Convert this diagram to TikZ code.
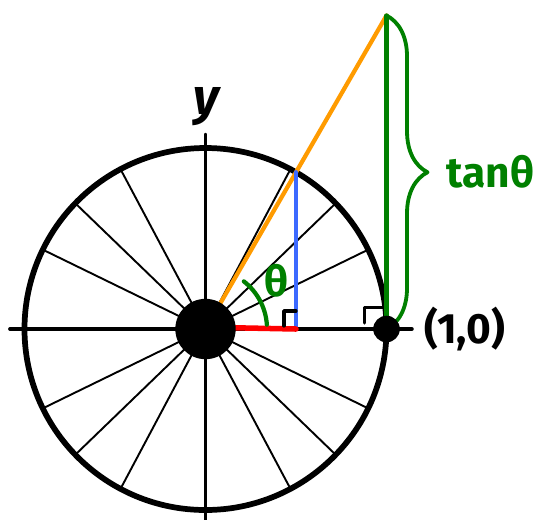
\documentclass[tikz,border=0pt]{standalone}
\usepackage{fontspec}
\setmainfont{Fira Sans}
\usetikzlibrary{decorations.pathreplacing}
\definecolor{tanorange}{RGB}{255,155,0}
\definecolor{sinblue}{RGB}{60,105,255}
\definecolor{tangreen}{RGB}{0,128,0}

\begin{document}
\begin{tikzpicture}[line cap=round, line join=round,
    spoke/.style={line width=0.9pt},
    axis/.style={line width=1.8pt},
    rmark/.style={line width=1.5pt},
    lbl/.style={font=\bfseries\fontsize{20}{20}\selectfont}]
    \useasboundingbox (-3.406,-3.149) rectangle (5.826,5.453);
    \coordinate (O) at (0,0);
    \coordinate (A) at (3,0);
    \coordinate (P) at (60:3);
    \coordinate (F) at (1.5,0);
    \coordinate (T) at (3,5.196);
    % spokes of the wheel
    \foreach \a in {26,44,62,118,136,154,206,224,242,298,316,334}
        \draw[spoke] (O) -- (\a:3);
    \draw[axis] (-3.24,0) -- (3.42,0);
    \draw[axis] (0,-3.2) -- (0,3.22);
    \node[font=\bfseries\itshape\fontsize{24}{24}\selectfont] (ylab) at (0.02,3.68) {y};
    \draw[line width=2.7pt] (O) circle (3);
    % the triangle
    \draw[tanorange, line width=2pt] (O) -- (T);
    \draw[sinblue, line width=2pt] (F) -- (P);
    \draw[red, line width=2.6pt] (0.5,0.02) -- (F);
    \draw[rmark] (1.3,0.05) |- (1.5,0.3);
    \draw[rmark] (2.63,0.1) |- (3,0.35);
    % angle
    \draw[tangreen, line width=2pt] (4:1.02) arc (4:52:1.0);
    \node[tangreen, lbl] (th) at (1.17,0.8) {θ};
    % tangent segment with brace
    \draw[tangreen, line width=2pt] (A) -- (T);
    \draw[tangreen, line width=1.8pt, decorate, decoration={brace, amplitude=0.68cm}] (T) -- (A)
        node[midway, right=0.85cm, lbl, tangreen] (tanlab) {tanθ};
    \fill (O) circle (0.5);
    \fill (A) circle (0.22);
    \node[lbl, right=0.5cm] (alab) at (A) {(1,0)};
\end{tikzpicture}
\end{document}
